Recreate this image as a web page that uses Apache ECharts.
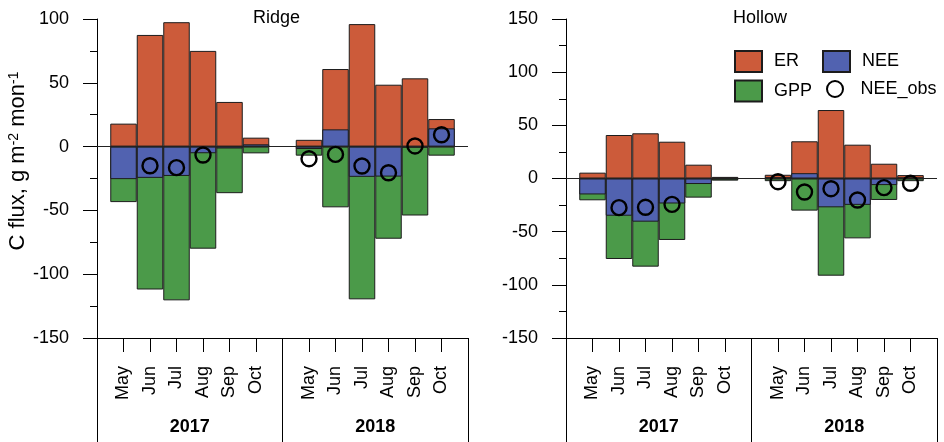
<!DOCTYPE html>
<html>
<head>
<meta charset="utf-8">
<title>C flux – Ridge and Hollow</title>
<script src="https://cdn.jsdelivr.net/npm/echarts@6/dist/echarts.min.js"></script>
<style>
  html, body { margin: 0; padding: 0; background: #fff; }
  #chart { width: 944px; height: 442px; }
</style>
</head>
<body>
<div id="chart"></div>
<script>
// Monthly growing-season carbon fluxes (g C m-2 mon-1)
const months = ['May', 'Jun', 'Jul', 'Aug', 'Sep', 'Oct'];
const years = ['2017', '2018'];

// Ridge
const ridgeER2017  = [18, 87.5, 97.5, 75, 35, 7];
const ridgeGPP2017 = [-43.5, -112, -120.5, -80, -36.5, -5.3];
const ridgeNEE2017 = [-25.5, -24.5, -23, -5.2, -1.5, 1.8];
const ridgeObs2017 = [null, -15, -16.5, -6.6, null, null];

const ridgeER2018  = [5.3, 60.8, 96, 48.5, 53.5, 21.6];
const ridgeGPP2018 = [-7.1, -47.6, -119.7, -72.2, -54, -7.1];
const ridgeNEE2018 = [-1.9, 13.5, -23.7, -23.5, -0.5, 14.3];
const ridgeObs2018 = [-9.5, -6.1, -15.2, -20.5, 0.5, 9.3];

// Hollow
const hollowER2017  = [5.5, 40.9, 42.5, 34.6, 13, 1.5];
const hollowGPP2017 = [-20.5, -75.7, -82.9, -57.8, -18, -2];
const hollowNEE2017 = [-15, -35, -40.6, -23.5, -5.2, -0.5];
const hollowObs2017 = [null, -27.4, -27.1, -24.3, null, null];

const hollowER2018  = [3.5, 35, 64.4, 31.8, 13.9, 3.2];
const hollowGPP2018 = [-2.5, -30.2, -91.4, -56.3, -20.2, -2.5];
const hollowNEE2018 = [1.0, 5.0, -27.1, -24.8, -6.2, 0.7];
const hollowObs2018 = [-3, -12.7, -9.6, -20.2, -8.6, -4.5];

// y-axis tick settings per panel
const ridgeTicks = { min: -150, max: 100, step: 50 };
const hollowTicks = { min: -150, max: 150, step: 50 };

const FONT = "'Liberation Sans', Arial, Helvetica, sans-serif";
const COLORS = { ER: '#cc5b3a', NEE: '#5162b0', GPP: '#4b9a49', edge: '#1c1c1c' };

// Month slots along x: edge, 6 months of 2017, separator, 6 months of 2018, edge
function slots(a, b) { return [null].concat(a, [null], b, [null]); }
const slotNames = [' '].concat(
  months.map(m => m + ' 2017'), ['  '],
  months.map(m => m + ' 2018'), ['   ']
);

const panels = [
  {
    title: 'Ridge', left: 97, titleLeft: 253, ticks: ridgeTicks, showName: true,
    er: slots(ridgeER2017, ridgeER2018),
    gpp: slots(ridgeGPP2017, ridgeGPP2018),
    nee: slots(ridgeNEE2017, ridgeNEE2018),
    obs: slots(ridgeObs2017, ridgeObs2018)
  },
  {
    title: 'Hollow', left: 566, titleLeft: 733, ticks: hollowTicks, showName: false,
    er: slots(hollowER2017, hollowER2018),
    gpp: slots(hollowGPP2017, hollowGPP2018),
    nee: slots(hollowNEE2017, hollowNEE2018),
    obs: slots(hollowObs2017, hollowObs2018)
  }
];

const baseText = { fontFamily: FONT, fontSize: 18, color: '#000' };

const grid = [], xAxis = [], yAxis = [], series = [], title = [];

panels.forEach((p, g) => {
  grid.push({ left: p.left, top: 19, width: 371, height: 319, containLabel: false });

  title.push({
    text: p.title, left: p.titleLeft, top: 9, padding: 0,
    textStyle: Object.assign({}, baseText, { fontWeight: 'normal' })
  });

  // month axis
  xAxis.push({
    type: 'category', gridIndex: g, position: 'bottom',
    data: slotNames, boundaryGap: false,
    axisLine: { onZero: false, lineStyle: { color: '#000', width: 1 } },
    axisTick: {
      show: true, interval: (i) => i % 7 !== 0, length: 14, inside: false,
      lineStyle: { color: '#000', width: 1 }
    },
    axisLabel: Object.assign({}, baseText, {
      interval: 0, rotate: 90, margin: 28,
      formatter: (v) => v.split(' ')[0]
    }),
    splitLine: { show: false }
  });

  // year axis: band boundaries give the section dividers
  xAxis.push({
    type: 'category', gridIndex: g, position: 'bottom',
    data: years, boundaryGap: true,
    axisLine: { show: true, onZero: false, lineStyle: { color: '#000', width: 1 } },
    axisTick: {
      show: true, interval: 0, alignWithLabel: false, length: 110, inside: false,
      lineStyle: { color: '#000', width: 1 }
    },
    axisLabel: Object.assign({}, baseText, { fontWeight: 'bold', margin: 80, interval: 0 }),
    splitLine: { show: false }
  });

  const yAx = {
    type: 'value', gridIndex: g,
    min: p.ticks.min, max: p.ticks.max, interval: p.ticks.step,
    axisLine: { show: true, onZero: false, lineStyle: { color: '#000', width: 1 } },
    axisTick: { show: true, length: 14, lineStyle: { color: '#000', width: 1 } },
    minorTick: { show: true, splitNumber: 2, length: 7, lineStyle: { color: '#000', width: 1 } },
    splitLine: { show: false },
    axisLabel: Object.assign({}, baseText, { margin: 28 })
  };
  if (p.showName) {
    yAx.name = 'C flux, g m{sup|-2} mon{sup|-1}';
    yAx.nameLocation = 'middle';
    yAx.nameGap = 68;
    yAx.nameTextStyle = Object.assign({}, baseText, {
      fontSize: 22,
      padding: [0, 0, 0, 35],
      rich: {
        sup: { fontFamily: FONT, fontSize: 14, color: '#000', verticalAlign: 'top' }
      }
    });
  }
  yAxis.push(yAx);

  const xi = 2 * g;
  const barCommon = {
    type: 'bar', xAxisIndex: xi, yAxisIndex: g,
    barWidth: '100%', barGap: '-100%', barCategoryGap: '0%'
  };

  series.push(Object.assign({}, barCommon, {
    name: 'ER', data: p.er,
    itemStyle: { color: COLORS.ER, borderColor: COLORS.edge, borderWidth: 1 }
  }));
  series.push(Object.assign({}, barCommon, {
    name: 'GPP', data: p.gpp,
    itemStyle: { color: COLORS.GPP, borderColor: COLORS.edge, borderWidth: 1 }
  }));
  series.push(Object.assign({}, barCommon, {
    name: 'NEE', data: p.nee,
    itemStyle: { color: COLORS.NEE, borderColor: COLORS.edge, borderWidth: 1 },
    markLine: {
      silent: true, symbol: ['none', 'none'], label: { show: false },
      lineStyle: { color: '#222', width: 1, type: 'solid' },
      data: [{ yAxis: 0 }]
    }
  }));
  series.push({
    type: 'scatter', name: 'NEE_obs', xAxisIndex: xi, yAxisIndex: g,
    data: p.obs, symbol: 'circle', symbolSize: 15, z: 5,
    itemStyle: { color: 'rgba(0,0,0,0)', borderColor: '#000', borderWidth: 2.4, opacity: 1 }
  });
});

const legendText = Object.assign({}, baseText, { padding: [0, 0, 0, 7] });
const legend = [
  {
    data: ['ER', 'GPP'], orient: 'vertical', left: 734, top: 50, padding: 0,
    itemWidth: 27, itemHeight: 21, itemGap: 6.5, icon: 'rect',
    textStyle: legendText, selectedMode: false
  },
  {
    data: ['NEE'], orient: 'vertical', left: 822, top: 50, padding: 0,
    itemWidth: 27, itemHeight: 21, icon: 'rect',
    textStyle: legendText, selectedMode: false
  },
  {
    data: ['NEE_obs'], orient: 'vertical', left: 826, top: 80, padding: 0,
    itemWidth: 27, itemHeight: 16,
    textStyle: legendText, selectedMode: false
  }
];

const chart = echarts.init(document.getElementById('chart'), null, { renderer: 'canvas' });
chart.setOption({
  animation: false,
  backgroundColor: '#fff',
  textStyle: { fontFamily: FONT },
  title, legend, grid, xAxis, yAxis, series
});
</script>
</body>
</html>
